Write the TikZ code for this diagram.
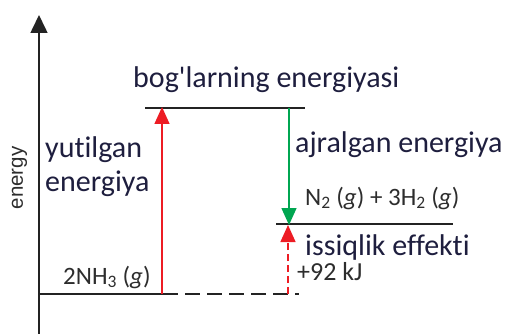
\documentclass[tikz,border=0pt]{standalone}
\usepackage{fontspec}
\newfontfamily\calib[Ligatures=NoCommon]{Carlito}
\newfontfamily\axisfont{Liberation Sans}
\usetikzlibrary{arrows.meta}
\definecolor{txt}{RGB}{30,30,62}
\definecolor{chem}{RGB}{45,45,45}
\definecolor{lin}{RGB}{35,35,35}
\definecolor{myred}{RGB}{237,28,36}
\definecolor{mygreen}{RGB}{0,166,81}
\begin{document}
\begin{tikzpicture}[x=1pt,y=-1pt,
  level/.style={draw=lin,line width=1.4pt},
  bigtxt/.style={text=txt,font=\calib\fontsize{30}{34}\selectfont,inner sep=0pt,anchor=base west},
  chemtxt/.style={text=chem,font=\calib\fontsize{25}{28}\selectfont,inner sep=0pt,anchor=base west},
  redarrow/.style={draw=myred,line width=1.4pt,-{Triangle[length=17pt,width=15pt]}},
  greenarrow/.style={draw=mygreen,line width=1.4pt,-{Triangle[length=17pt,width=15pt]}}
]
\useasboundingbox (0,0) rectangle (509,334);
% axis
\coordinate (ax0) at (39,334);
\coordinate (ax1) at (39,15);
\draw[draw=lin,line width=1.6pt,-{Triangle[length=18pt,width=17pt]}] (ax0) -- (ax1);
\node[text=chem,font=\axisfont\fontsize{20.5}{24}\selectfont,rotate=90,inner sep=0pt] (en) at (19.5,178) {energy};
% levels
\coordinate (b0) at (39,294);
\coordinate (b1) at (163,294);
\coordinate (b2) at (299,294);
\draw[level] (b0) -- (b1);
\draw[draw=lin,line width=1.4pt,dash pattern=on 15pt off 7pt] (b1) -- (b2);
\coordinate (t0) at (145,108);
\coordinate (t1) at (305,108);
\draw[level] (t0) -- (t1);
\coordinate (p0) at (276,224);
\coordinate (p1) at (453,224);
\draw[level] (p0) -- (p1);
% arrows
\coordinate (r0) at (162,294);
\coordinate (r1) at (162,107);
\draw[redarrow] (r0) -- (r1);
\coordinate (g0) at (289,108);
\coordinate (g1) at (289,225);
\draw[greenarrow] (g0) -- (g1);
\coordinate (d0) at (288,294);
\coordinate (d1) at (288,225);
\draw[redarrow,dash pattern=on 7pt off 4pt] (d0) -- (d1);
% texts
\node[bigtxt] (bog) at (133,88) {bog'larning energiyasi};
\node[bigtxt] (yut) at (45,158) {yutilgan};
\node[bigtxt] (ene) at (45,192) {energiya};
\node[bigtxt] (ajr) at (295,153) {ajralgan energiya};
\node[chemtxt] (n2) at (305,205) {N\textsubscript{2} (\textit{g}) + 3H\textsubscript{2} (\textit{g})};
\node[bigtxt] (iss) at (305,255) {issiqlik effekti};
\node[chemtxt,font=\calib\fontsize{26}{28}\selectfont] (kj) at (297,280) {+92 kJ};
\node[chemtxt] (nh) at (63,284) {2NH\textsubscript{3} (\textit{g})};
\end{tikzpicture}
\end{document}
